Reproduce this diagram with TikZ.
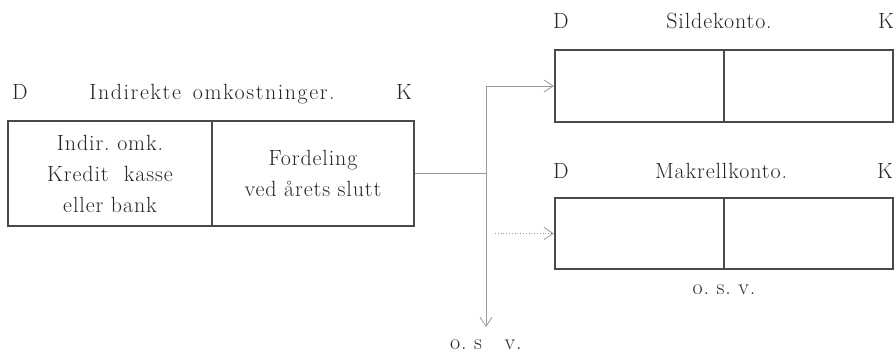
\documentclass[tikz,border=0pt]{standalone}
\usepackage{fontspec}
\setmainfont{Latin Modern Roman}[LetterSpace=4]
\usetikzlibrary{arrows.meta}
\definecolor{ink}{HTML}{262626}
\definecolor{rule}{HTML}{4A4A4A}
\definecolor{wire}{HTML}{9A9A9A}
\begin{document}
\begin{tikzpicture}[x=1pt,y=-1pt,
  every node/.style={font=\fontsize{22}{30}\selectfont, text=ink},
  cell/.style={draw=rule, line width=2.4pt, inner sep=0pt, align=center},
  lab/.style={anchor=base, inner sep=0pt},
  wirel/.style={draw=wire, line width=0.8pt},
  tip/.style={-{Straight Barb[length=9pt,width=12pt,line width=0.8pt]}}]
\useasboundingbox (0,0) rectangle (896,354);

% left account
\node[lab] (ld) at (20,99) {D};
\node[lab] (lt) at (212,99) {\addfontfeature{LetterSpace=7}Indirekte\hspace{12pt}omkostninger.};
\node[lab] (lk) at (404,99) {K};
\node[cell, minimum width=204pt, minimum height=105pt] (ll) at (110,173.5)
  {Indir.\ omk.\\[1pt]Kredit\ \ kasse\\[1pt]eller\ bank};
\node[cell, minimum width=202pt, minimum height=105pt] (lr) at (313,173.5)
  {Fordeling\\[1pt]ved årets slutt};

% Sildekonto
\node[lab] (sd) at (561,28) {D};
\node[lab] (st) at (719,28) {Sildekonto.};
\node[lab] (sk) at (886,28) {K};
\node[cell, minimum width=169pt, minimum height=72pt] (sl) at (639.5,86) {};
\node[cell, minimum width=169pt, minimum height=72pt] (sr) at (808.5,86) {};

% Makrellkonto
\node[lab] (md) at (561,178) {D};
\node[lab] (mt) at (721,178) {Makrellkonto.};
\node[lab] (mk) at (885,178) {K};
\node[cell, minimum width=169pt, minimum height=71pt] (ml) at (639.5,233.5) {};
\node[cell, minimum width=169pt, minimum height=71pt] (mr) at (808.5,233.5) {};
\node[lab] (mosv) at (724,294) {o.\ s.\ v.};

% connectors
\coordinate (jtop) at (486,86);
\coordinate (jmid) at (486,173.5);
\coordinate (jbot) at (486,327);
\coordinate (dstart) at (495,233.5);
\draw[wirel] (lr.east) -- (jmid);
\draw[wirel, tip] (jtop) -- (jbot);
\draw[wirel, tip] (jtop) -- (sl.west);
\draw[wirel, tip, dotted] (dstart) -- (ml.west);
\node[lab] (bosv) at (486,349) {o.\ s\ \ \ v.};
\end{tikzpicture}
\end{document}
